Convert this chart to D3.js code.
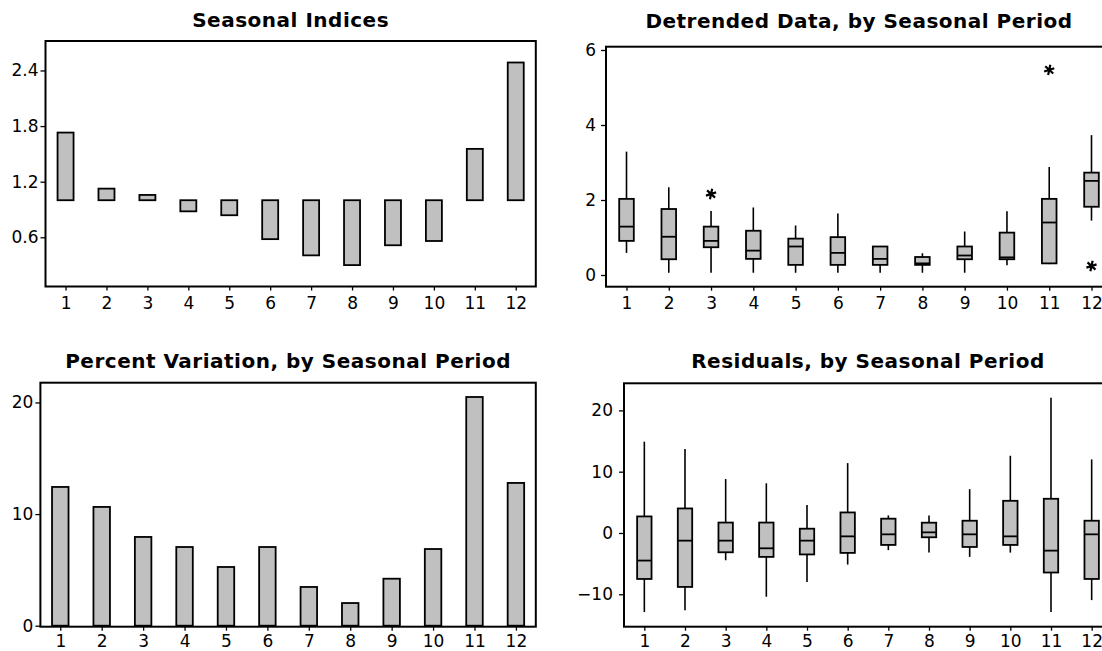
<!DOCTYPE html>
<html lang="en">
<head>
	<meta charset="utf-8">
	<title>Seasonal Analysis</title>
	<script src="https://cdn.jsdelivr.net/npm/d3@7"></script>
	<style>
		body { margin: 0; background: #fff; }
		svg text { font-family: "DejaVu Sans", sans-serif; fill: #000; }
		.tick text { font-size: 17px; }
		.title { font-size: 20px; font-weight: bold; letter-spacing: 0.5px; }
	</style>
</head>
<body>
<script>
	// periods (x categories)
	var periods = [1, 2, 3, 4, 5, 6, 7, 8, 9, 10, 11, 12];

	// seasonal indices
	var seasonalIndex = [1.73, 1.125, 1.057, 0.88, 0.838, 0.58, 0.405, 0.30, 0.514, 0.56, 1.554, 2.486];
	var indexBase = 1;

	// detrended data boxplots
	var detLow = [0.59, 0.06, 0.06, 0.06, 0.06, 0.06, 0.06, 0.06, 0.06, 0.26, 0.29, 1.45];
	var detQ1 = [0.91, 0.42, 0.74, 0.43, 0.27, 0.27, 0.27, 0.27, 0.42, 0.42, 0.31, 1.82];
	var detMed = [1.29, 1.02, 0.91, 0.65, 0.76, 0.59, 0.43, 0.31, 0.52, 0.47, 1.40, 2.51];
	var detQ3 = [2.03, 1.76, 1.29, 1.18, 0.97, 1.01, 0.76, 0.48, 0.76, 1.13, 2.03, 2.73];
	var detHigh = [3.29, 2.34, 1.71, 1.80, 1.32, 1.64, 0.77, 0.58, 1.16, 1.70, 2.88, 3.73];
	var detOutPeriod = [3, 11, 12];
	var detOutValue = [2.16, 5.47, 0.24];

	// percent variation
	var pctVariation = [12.43, 10.64, 7.95, 7.05, 5.26, 7.05, 3.47, 2.03, 4.21, 6.87, 20.49, 12.79];

	// residual boxplots
	var resLow = [-12.9, -12.6, -4.45, -10.4, -8.0, -5.15, -2.8, -3.2, -3.9, -3.2, -12.9, -10.95];
	var resQ1 = [-7.5, -8.8, -3.15, -3.9, -3.5, -3.25, -1.95, -0.7, -2.28, -1.95, -6.45, -7.5];
	var resMed = [-4.5, -1.25, -1.25, -2.5, -1.25, -0.55, -0.22, 0.1, -0.22, -0.55, -2.88, -0.22];
	var resQ3 = [2.7, 4.0, 1.7, 1.7, 0.7, 3.35, 2.33, 1.68, 2.0, 5.25, 5.58, 2.0];
	var resHigh = [14.9, 13.7, 8.8, 8.1, 4.55, 11.4, 2.87, 2.87, 7.15, 12.6, 22.05, 12.0];

	// tick labels
	var indexTicks = [0.6, 1.2, 1.8, 2.4];
	var detTicks = [0, 2, 4, 6];
	var pctTicks = [0, 10, 20];
	var resTicks = [-10, 0, 10, 20];

	var w = 1102;
	var h = 651;
	var grey = "#c0c0c0";

	var svg = d3.select("body")
		.append("svg")
		.attr("width", w)
		.attr("height", h);

	// sets up one panel: scales, axes, title
	function panel(cfg) {
		var g = svg.append("g");

		var x = d3.scalePoint()
			.domain(periods)
			.range([cfg.x0, cfg.x1])
			.padding(cfg.pad);

		var y = d3.scaleLinear()
			.domain(cfg.domain)
			.range([cfg.y1, cfg.y0]);

		var yAxis = d3.axisLeft(y)
			.tickValues(cfg.ticks)
			.tickSize(5)
			.tickPadding(cfg.gap)
			.tickFormat(cfg.fmt);

		var ya = g.append("g")
			.attr("transform", "translate(" + cfg.x0 + ",0)")
			.call(yAxis);

		var xa = g.append("g")
			.attr("transform", "translate(0," + cfg.y1 + ")")
			.call(d3.axisBottom(x).tickSize(4).tickPadding(cfg.xgap));

		[ya, xa].forEach(function (a) {
			a.select(".domain").remove();
			a.selectAll("line").attr("stroke", "#000").attr("stroke-width", 1.3);
		});

		g.append("text")
			.attr("class", "title")
			.attr("x", (cfg.x0 + cfg.x1) / 2)
			.attr("y", cfg.titleY)
			.attr("text-anchor", "middle")
			.text(cfg.title);

		return { g: g, x: x, y: y, cfg: cfg };
	}

	function frame(p) {
		var c = p.cfg;
		p.g.append("rect")
			.attr("x", c.x0)
			.attr("y", c.y0)
			.attr("width", c.x1 - c.x0)
			.attr("height", c.y1 - c.y0)
			.attr("fill", "none")
			.attr("stroke", "#000")
			.attr("stroke-width", 2);
	}

	function boxes(p, low, q1, med, q3, high, bw) {
		var x = p.x, y = p.y;
		var rows = periods.map(function (d, i) {
			return { p: d, low: low[i], q1: q1[i], med: med[i], q3: q3[i], high: high[i] };
		});
		var b = p.g.selectAll(null)
			.data(rows)
			.enter()
			.append("g");

		b.append("line")
			.attr("x1", function (d) { return x(d.p); })
			.attr("x2", function (d) { return x(d.p); })
			.attr("y1", function (d) { return y(d.high); })
			.attr("y2", function (d) { return y(d.low); })
			.attr("stroke", "#000")
			.attr("stroke-width", 1.6);

		b.append("rect")
			.attr("x", function (d) { return x(d.p) - bw / 2; })
			.attr("y", function (d) { return y(d.q3); })
			.attr("width", bw)
			.attr("height", function (d) { return y(d.q1) - y(d.q3); })
			.attr("fill", grey)
			.attr("stroke", "#000")
			.attr("stroke-width", 1.8);

		b.append("line")
			.attr("x1", function (d) { return x(d.p) - bw / 2; })
			.attr("x2", function (d) { return x(d.p) + bw / 2; })
			.attr("y1", function (d) { return y(d.med); })
			.attr("y2", function (d) { return y(d.med); })
			.attr("stroke", "#000")
			.attr("stroke-width", 1.8);
	}

	function bars(p, vals, base, bw) {
		var x = p.x, y = p.y;
		p.g.selectAll(null)
			.data(vals)
			.enter()
			.append("rect")
			.attr("x", function (d, i) { return x(periods[i]) - bw / 2; })
			.attr("y", function (d) { return y(Math.max(d, base)); })
			.attr("width", bw)
			.attr("height", function (d) { return Math.abs(y(d) - y(base)); })
			.attr("fill", grey)
			.attr("stroke", "#000")
			.attr("stroke-width", 1.8);
	}

	// Seasonal Indices
	var p1 = panel({
		x0: 45.5, x1: 535.8, y0: 41, y1: 286.5, pad: 0.49,
		domain: [0.069, 2.718], ticks: indexTicks, fmt: d3.format(".1f"), gap: 2, xgap: 6,
		title: "Seasonal Indices", titleY: 26.5
	});
	bars(p1, seasonalIndex, indexBase, 16);
	frame(p1);

	// Detrended Data
	var p2 = panel({
		x0: 606, x1: 1112, y0: 46.7, y1: 286.7, pad: 0.485,
		domain: [-0.312, 6.088], ticks: detTicks, fmt: d3.format("d"), gap: 5, xgap: 6,
		title: "Detrended Data, by Seasonal Period", titleY: 28.3
	});
	boxes(p2, detLow, detQ1, detMed, detQ3, detHigh, 14.6);
	p2.g.selectAll(null)
		.data(detOutValue)
		.enter()
		.append("path")
		.attr("d", d3.symbol().type(d3.symbolAsterisk).size(80))
		.attr("transform", function (d, i) {
			return "translate(" + p2.x(detOutPeriod[i]) + "," + p2.y(d) + ") rotate(12)";
		})
		.attr("stroke", "#000")
		.attr("stroke-width", 2.2);
	frame(p2);

	// Percent Variation
	var p3 = panel({
		x0: 40.4, x1: 535.8, y0: 382.7, y1: 626.7, pad: 0.48,
		domain: [-0.09, 21.77], ticks: pctTicks, fmt: d3.format("d"), gap: 2, xgap: 4,
		title: "Percent Variation, by Seasonal Period", titleY: 368.3
	});
	bars(p3, pctVariation, 0, 16.5);
	frame(p3);

	// Residuals
	var p4 = panel({
		x0: 624, x1: 1112, y0: 383.3, y1: 626.7, pad: 0.5,
		domain: [-15.29, 24.42], ticks: resTicks, fmt: d3.format("d"), gap: 6, xgap: 4,
		title: "Residuals, by Seasonal Period", titleY: 368.3
	});
	boxes(p4, resLow, resQ1, resMed, resQ3, resHigh, 14.4);
	frame(p4);
</script>
</body>
</html>
